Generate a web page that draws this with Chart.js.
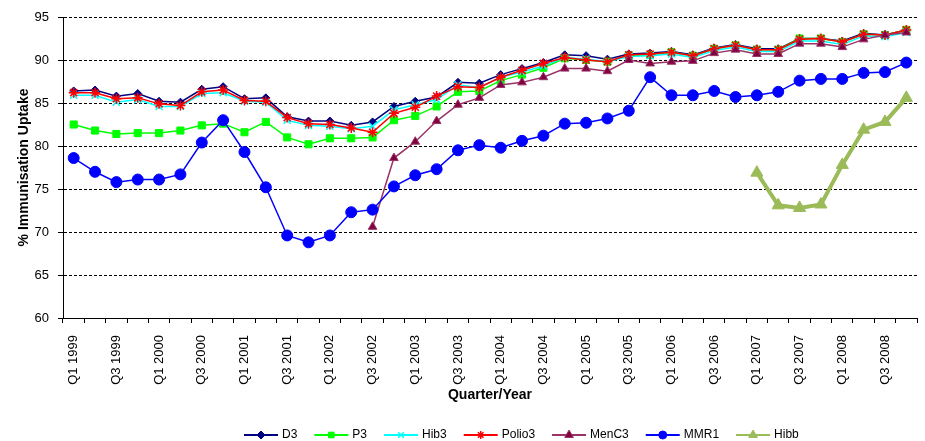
<!DOCTYPE html>
<html>
<head>
<meta charset="utf-8">
<script src="https://cdn.jsdelivr.net/npm/chart.js@4"></script>
<style>
  body { margin: 0; background: #fff; }
  #wrap { width: 925px; height: 441px; }
</style>
</head>
<body>
<div id="wrap"><canvas id="myChart" width="925" height="441"></canvas></div>
<script>
	const quarters = [
		'Q1 1999', 'Q2 1999', 'Q3 1999', 'Q4 1999',
		'Q1 2000', 'Q2 2000', 'Q3 2000', 'Q4 2000',
		'Q1 2001', 'Q2 2001', 'Q3 2001', 'Q4 2001',
		'Q1 2002', 'Q2 2002', 'Q3 2002', 'Q4 2002',
		'Q1 2003', 'Q2 2003', 'Q3 2003', 'Q4 2003',
		'Q1 2004', 'Q2 2004', 'Q3 2004', 'Q4 2004',
		'Q1 2005', 'Q2 2005', 'Q3 2005', 'Q4 2005',
		'Q1 2006', 'Q2 2006', 'Q3 2006', 'Q4 2006',
		'Q1 2007', 'Q2 2007', 'Q3 2007', 'Q4 2007',
		'Q1 2008', 'Q2 2008', 'Q3 2008', 'Q4 2008'
	];

	const d3 = [
		86.4, 86.5, 85.8, 86.1, 85.2, 85.1, 86.6, 86.9, 85.5, 85.6, 83.4, 82.9,
		82.9, 82.4, 82.8, 84.6, 85.2, 85.7, 87.4, 87.3, 88.3, 89.0, 89.7, 90.6, 90.5, 90.1,
		90.7, 90.8, 91.0, 90.6, 91.4, 91.8, 91.3, 91.3, 92.5, 92.5, 92.2, 93.1, 92.9, 93.5
	];
	const p3 = [
		82.5, 81.8, 81.4, 81.5, 81.5, 81.8, 82.4, 82.6, 81.6, 82.8, 81.0, 80.2,
		80.9, 80.9, 81.0, 83.0, 83.5, 84.6, 86.3, 86.4, 87.6, 88.3, 89.1, 90.2, 90.0, 89.8,
		90.5, 90.6, 90.9, 90.5, 91.3, 91.7, 91.2, 91.2, 92.5, 92.5, 92.1, 93.0, 92.9, 93.5
	];
	const hib3 = [
		85.9, 85.9, 85.1, 85.4, 84.6, 84.6, 86.1, 86.2, 85.2, 85.1, 83.0, 82.4,
		82.3, 82.0, 82.3, 84.2, 84.8, 85.4, 87.1, 86.8, 88.0, 88.6, 89.3, 90.3, 90.1, 89.8,
		90.4, 90.5, 90.7, 90.3, 91.1, 91.5, 91.0, 91.0, 92.2, 92.2, 91.8, 92.8, 92.7, 93.2
	];
	const polio3 = [
		86.2, 86.2, 85.5, 85.6, 84.9, 84.7, 86.3, 86.5, 85.3, 85.2, 83.3, 82.6,
		82.5, 82.1, 81.6, 83.8, 84.5, 85.8, 86.9, 86.8, 88.0, 88.8, 89.6, 90.3, 90.0, 89.8,
		90.6, 90.7, 90.9, 90.5, 91.3, 91.7, 91.2, 91.2, 92.4, 92.5, 92.1, 93.0, 92.9, 93.5
	];
	const menC3 = [
		null, null, null, null, null, null, null, null, null, null, null, null,
		null, null, 70.6, 78.6, 80.5, 82.9, 84.8, 85.6, 87.1, 87.4, 88.0, 89.0, 89.0, 88.7,
		90.0, 89.6, 89.8, 89.9, 90.8, 91.2, 90.7, 90.7, 91.9, 91.9, 91.5, 92.4, 92.9, 93.2
	];
	const mmr1 = [
		78.6, 77.0, 75.8, 76.1, 76.1, 76.7, 80.4, 83.0, 79.3, 75.2, 69.6, 68.8,
		69.6, 72.3, 72.6, 75.3, 76.6, 77.3, 79.5, 80.1, 79.8, 80.6, 81.2, 82.6, 82.7, 83.2,
		84.1, 88.0, 85.9, 85.9, 86.4, 85.7, 85.9, 86.3, 87.6, 87.8, 87.8, 88.5, 88.6, 89.7
	];
	const hibb = [
		null, null, null, null, null, null, null, null, null, null, null, null,
		null, null, null, null, null, null, null, null, null, null, null, null, null, null,
		null, null, null, null, null, null, 76.9, 73.1, 72.8, 73.2, 77.8, 81.9, 82.8, 85.6
	];

	const font = '"Liberation Sans", Arial, sans-serif';

	function series(label, data, line, fill, border, style, radius, width) {
		return {
			label: label,
			data: data,
			borderColor: line,
			backgroundColor: fill,
			borderWidth: width,
			pointStyle: style,
			pointRadius: radius,
			pointBackgroundColor: fill,
			pointBorderColor: border,
			pointBorderWidth: style === 'crossRot' || style === 'star' ? 1.5 : 1,
			tension: 0,
			spanGaps: false
		};
	}

	const datasets = [
		series('D3', d3, '#000080', '#000080', '#000080', 'rectRot', 4, 1.5),
		series('P3', p3, '#00ff00', '#00ff00', '#00ff00', 'rect', 5, 1.5),
		series('Hib3', hib3, '#00ffff', '#00ffff', '#00ffff', 'crossRot', 5, 1.5),
		series('Polio3', polio3, '#ff0000', '#ff0000', '#ff0000', 'star', 5, 1.5),
		series('MenC3', menC3, '#993366', '#800040', '#993366', 'triangle', 5, 1.5),
		series('MMR1', mmr1, '#0000ff', '#0000ff', '#0000ff', 'circle', 5.5, 1.5),
		series('Hibb', hibb, '#9bbb59', '#9bbb59', '#9bbb59', 'triangle', 7, 4)
	];
	// later series sit on top, like the original
	datasets.forEach((ds, i) => { ds.order = datasets.length - i; });

	// legend: short line with the marker in the middle, then the name
	const lineLegend = {
		id: 'lineLegend',
		afterDraw(chart) {
			const ctx = chart.ctx;
			const y = 435;
			let x = 244;
			ctx.save();
			ctx.font = '12px ' + font;
			ctx.textBaseline = 'middle';
			datasets.forEach((ds) => {
				ctx.strokeStyle = ds.borderColor;
				ctx.lineWidth = 2;
				ctx.beginPath();
				ctx.moveTo(x, y);
				ctx.lineTo(x + 34, y);
				ctx.stroke();
				ctx.fillStyle = ds.pointBackgroundColor;
				ctx.strokeStyle = ds.pointBorderColor;
				ctx.lineWidth = ds.pointBorderWidth;
				Chart.helpers.drawPoint(ctx, {
					pointStyle: ds.pointStyle,
					radius: ds.pointStyle === 'triangle' ? 5 : 4,
					rotation: 0,
					borderWidth: ds.pointBorderWidth
				}, x + 17, y);
				ctx.fillStyle = '#000';
				ctx.fillText(ds.label, x + 38, y);
				x += 38 + ctx.measureText(ds.label).width + 17;
			});
			ctx.restore();
		}
	};

	const ctx = document.getElementById('myChart');

	new Chart(ctx, {
		type: 'line',
		data: {
			labels: quarters,
			datasets: datasets
		},
		plugins: [lineLegend],
		options: {
			responsive: false,
			animation: false,
			layout: {
				padding: { top: 17, right: 7, bottom: 33, left: 0 }
			},
			plugins: {
				legend: { display: false },
				tooltip: { enabled: false }
			},
			scales: {
				x: {
					offset: true,
					afterFit: function(scale) {
						scale.height = 90;
						scale.paddingLeft = 0;
						scale.paddingRight = 0;
					},
					grid: {
						offset: true,
						drawOnChartArea: false,
						tickLength: 5,
						color: '#000'
					},
					border: { color: '#000', width: 1 },
					ticks: {
						autoSkip: false,
						maxRotation: 90,
						minRotation: 90,
						padding: 12,
						color: '#000',
						font: { family: font, size: 13 },
						callback: function(value, index) {
							return index % 2 === 0 ? quarters[index] : '';
						}
					},
					title: {
						display: true,
						text: 'Quarter/Year',
						color: '#000',
						padding: { top: 0, bottom: 4 },
						font: { family: font, size: 14, weight: 'bold' }
					}
				},
				y: {
					min: 60,
					max: 95,
					afterFit: function(scale) {
						scale.width = 63;
					},
					grid: {
						color: '#000',
						lineWidth: 1,
						tickLength: 5,
						tickBorderDash: []
					},
					border: { color: '#000', width: 1, dash: [3, 2] },
					ticks: {
						stepSize: 5,
						padding: 9,
						color: '#000',
						font: { family: font, size: 13 }
					},
					title: {
						display: true,
						text: '% Immunisation Uptake',
						color: '#000',
						padding: { top: 16, bottom: 0 },
						font: { family: font, size: 14, weight: 'bold' }
					}
				}
			}
		}
	});
</script>
</body>
</html>
